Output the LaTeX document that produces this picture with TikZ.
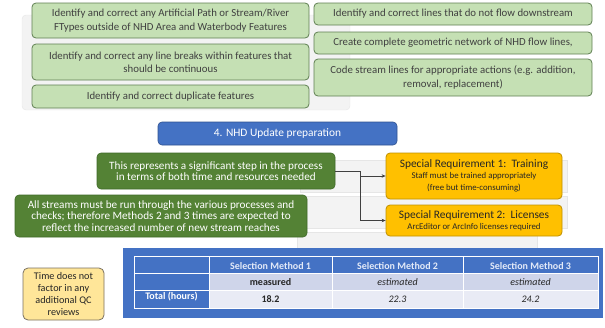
\documentclass[tikz,border=0pt]{standalone}
\usepackage{fontspec}
\setmainfont{Carlito}
\usetikzlibrary{arrows.meta}
\definecolor{lightgreen}{HTML}{C5E0B4}
\definecolor{lightgreenedge}{HTML}{5F7F52}
\definecolor{darkgreen}{HTML}{548235}
\definecolor{darkgreenedge}{HTML}{3E6A28}
\definecolor{officeblue}{HTML}{4472C4}
\definecolor{officeblueedge}{HTML}{2F528F}
\definecolor{gold}{HTML}{FFC000}
\definecolor{goldedge}{HTML}{BF9000}
\definecolor{paleyellow}{HTML}{FFE699}
\definecolor{paleyellowedge}{HTML}{7A7060}
\definecolor{ghost}{HTML}{F3F3F3}
\definecolor{ghostedge}{HTML}{E6E6E6}
\definecolor{rowa}{HTML}{CFD5EA}
\definecolor{rowb}{HTML}{E9EBF5}
\definecolor{headtext}{HTML}{E3EAF8}
\definecolor{bodytext}{HTML}{262626}
\tikzset{
  taskbox/.style={draw=lightgreenedge, fill=lightgreen, line width=0.8pt, rounded corners=4pt,
    inner sep=0pt, align=center, font=\fontsize{10.8}{13.3}\selectfont, text=black!75},
  notebox/.style={draw=darkgreenedge, fill=darkgreen, line width=0.6pt, rounded corners=4pt,
    inner sep=0pt, align=center, font=\fontsize{11.2}{11.6}\selectfont, text=white},
  stagebox/.style={draw=officeblueedge, fill=officeblue, line width=0.6pt, rounded corners=4pt,
    inner sep=0pt, align=center, font=\fontsize{11.4}{13}\selectfont, text=white},
  reqbox/.style={draw=goldedge, fill=gold, line width=0.8pt, rounded corners=4pt,
    inner sep=0pt, align=center, text=black!85},
  qcbox/.style={draw=paleyellowedge, fill=paleyellow, line width=0.8pt, rounded corners=5pt,
    inner sep=0pt, align=center, font=\fontsize{10.2}{12}\selectfont, text=black!85},
  ghostbar/.style={draw=ghostedge, fill=ghost, line width=0.4pt},
  link/.style={draw=black!75, line width=0.7pt, -{Stealth[length=4pt,width=3.5pt]}},
  headcell/.style={font=\fontsize{10}{11}\selectfont\bfseries, text=headtext, inner sep=0pt},
  bodycell/.style={font=\fontsize{10}{11}\selectfont, text=bodytext, inner sep=0pt},
}
\begin{document}
\begin{tikzpicture}[x=1pt,y=-1pt]
\useasboundingbox (0,0) rectangle (605,327);

% faded bars behind the task boxes and the requirement boxes
\draw[ghostbar, rounded corners=4pt] (22,15) rectangle (350,110);
\draw[ghostbar] (300,160) rectangle (567,192);
\draw[ghostbar] (300,196) rectangle (567,228);
\draw[ghostbar] (297,232) rectangle (537,248);

% clean-up tasks
\node[taskbox, minimum width=277pt, minimum height=35pt] (artpath) at (170.5,20.5)
  {Identify and correct any Artificial Path or Stream/River\\FTypes outside of NHD Area and Waterbody Features};
\node[taskbox, minimum width=277pt, minimum height=36pt] (breaks) at (170.5,62)
  {Identify and correct any line breaks within features that\\should be continuous};
\node[taskbox, minimum width=277pt, minimum height=23pt] (dups) at (170.5,96.5)
  {Identify and correct duplicate features};
\node[taskbox, minimum width=278pt, minimum height=22pt] (flowdir) at (453,14)
  {Identify and correct lines that do not flow downstream};
\node[taskbox, minimum width=278pt, minimum height=22pt] (network) at (453,43)
  {Create complete geometric network of NHD flow lines,};
\node[taskbox, minimum width=278pt, minimum height=37pt] (actions) at (453,77.5)
  {Code stream lines for appropriate actions (e.g. addition,\\removal, replacement)};

% stage heading
\node[stagebox, minimum width=239pt, minimum height=23pt] (stage) at (277.5,133.5)
  {4. NHD Update preparation};

% notes
\node[notebox, minimum width=238pt, minimum height=36pt] (effort) at (216,171)
  {This represents a significant step in the process\\in terms of both time and resources needed};
\node[notebox, minimum width=292pt, minimum height=42pt] (allstreams) at (161,216)
  {All streams must be run through the various processes and\\checks; therefore Methods 2 and 3 times are expected to\\reflect the increased number of new stream reaches};

% special requirements
\node[reqbox, minimum width=176pt, minimum height=46pt] (training) at (474,176)
  {{\fontsize{11.4}{13}\selectfont Special Requirement 1:\ \ Training}\\[-1pt]
   {\fontsize{8.8}{10.5}\selectfont Staff must be trained appropriately}\\
   {\fontsize{8.8}{10.5}\selectfont (free but time-consuming)}};
\node[reqbox, minimum width=176pt, minimum height=31pt] (licenses) at (474,220.5)
  {{\fontsize{11.4}{13}\selectfont Special Requirement 2:\ \ Licenses}\\[-1pt]
   {\fontsize{8.8}{10.5}\selectfont ArcEditor or ArcInfo licenses required}};

% connectors from the effort note to the requirements
\coordinate (split) at (360,171);
\coordinate (branch) at (360,176);
\coordinate (corner) at (360,220.5);
\draw[draw=black!75, line width=0.7pt] (effort.east) -- (split) -- (corner);
\draw[link] (branch) -- (training.west);
\draw[link] (corner) -- (licenses.west);

% QC note
\node[qcbox, minimum width=81pt, minimum height=52pt] (qcnote) at (63.5,294)
  {Time does not\\factor in any\\additional QC\\reviews};

% time table
\fill[officeblue] (123,248) rectangle (603,318);
\fill[rowa] (209,273) rectangle (598,290);
\fill[rowb] (209,290) rectangle (598,308);
\draw[white, line width=0.8pt] (134,256) rectangle (598,308);
\foreach \yy in {273,290} \draw[white, line width=0.8pt] (134,\yy) -- (598,\yy);
\foreach \xx in {209,332,463} \draw[white, line width=0.8pt] (\xx,256) -- (\xx,308);

\node[headcell] (h1) at (270.5,266) {Selection Method 1};
\node[headcell] (h2) at (397.5,266) {Selection Method 2};
\node[headcell] (h3) at (530.5,266) {Selection Method 3};
\node[bodycell, font=\fontsize{10}{11}\selectfont\bfseries] (m1) at (270.5,282) {measured};
\node[bodycell, font=\fontsize{10}{11}\selectfont\itshape] (m2) at (397.5,282) {estimated};
\node[bodycell, font=\fontsize{10}{11}\selectfont\itshape] (m3) at (530.5,282) {estimated};
\node[headcell, text=white] (rowlabel) at (171.5,297) {Total (hours)};
\node[bodycell, font=\fontsize{10}{11}\selectfont\bfseries] (t1) at (270.5,299.5) {18.2};
\node[bodycell, font=\fontsize{10}{11}\selectfont\itshape] (t2) at (397.5,299.5) {22.3};
\node[bodycell, font=\fontsize{10}{11}\selectfont\itshape] (t3) at (530.5,299.5) {24.2};
\end{tikzpicture}
\end{document}
